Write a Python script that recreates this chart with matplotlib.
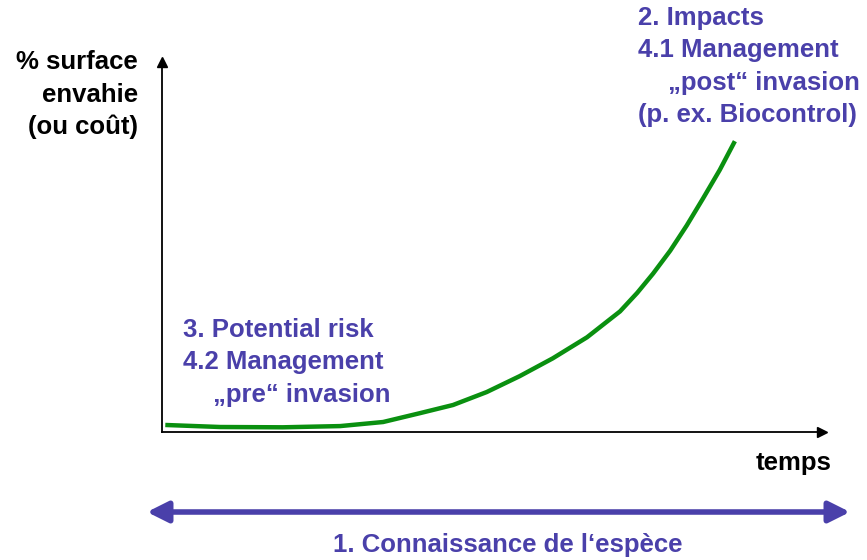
import matplotlib.pyplot as plt
from matplotlib.patches import FancyArrowPatch

# Courbe d'invasion (unités arbitraires : temps 0-10, surface 0-100)
temps = [0.05, 0.88, 1.83, 2.7, 3.35, 3.91, 4.41, 4.92, 5.42, 5.92, 6.44,
         6.94, 7.2, 7.44, 7.7, 7.95, 8.2, 8.45, 8.68]
surface = [1.9, 1.35, 1.27, 1.6, 2.7, 5.1, 7.3, 10.8, 15.1, 19.9, 25.6,
           32.6, 37.6, 42.8, 49.0, 55.8, 63.2, 70.8, 78.6]

W, H = 867, 560
BLUE = "#4a40aa"
plt.rcParams["font.family"] = ["Liberation Sans", "DejaVu Sans"]


def px(x, y):
    # pixels de l'image -> fraction de la figure
    return x / W, 1 - y / H


fig = plt.figure(figsize=(W / 100, H / 100), dpi=100)

# =========================
# Axes (surface vs temps)
# =========================
ax = fig.add_axes([162 / W, (H - 432) / H, (822 - 162) / W, (432 - 62) / H])
ax.set_xlim(0, 10)
ax.set_ylim(0, 100)
for s in ["top", "right"]:
    ax.spines[s].set_visible(False)
for s in ["left", "bottom"]:
    ax.spines[s].set_linewidth(1.3)
ax.set_xticks([])
ax.set_yticks([])
ax.plot(1, 0, ">k", markersize=7, transform=ax.transAxes, clip_on=False)
ax.plot(0, 1, "^k", markersize=7, transform=ax.transAxes, clip_on=False)

ax.plot(temps, surface, color="#0a9010", lw=3.2, solid_capstyle="butt",
        solid_joinstyle="round", clip_on=False)

# =========================
# Textes
# =========================
fs = 18.5
kw = dict(fontsize=fs, fontweight="bold", va="center")

# axe Y
for i, t in enumerate(["% surface", "envahie", "(ou coût)"]):
    fig.text(*px(138, 62 + i * 32.5), t, ha="right", color="black", **kw)

fig.text(*px(831, 463), "temps", ha="right", color="black", **kw)

# bloc haut droite
fig.text(*px(638, 18), "2. Impacts", ha="left", color=BLUE, **kw)
fig.text(*px(638, 50), "4.1 Management", ha="left", color=BLUE, **kw)
fig.text(*px(668, 83), "\u201epost\u201c invasion", ha="left", color=BLUE, **kw)
fig.text(*px(638, 115), "(p. ex. Biocontrol)", ha="left", color=BLUE, **kw)

# bloc bas gauche
fig.text(*px(183, 330), "3. Potential risk", ha="left", color=BLUE, **kw)
fig.text(*px(183, 362), "4.2 Management", ha="left", color=BLUE, **kw)
fig.text(*px(213, 395), "\u201epre\u201c invasion", ha="left", color=BLUE, **kw)

# flèche du bas
fig.patches.append(FancyArrowPatch(
    px(147, 512), px(850, 512), transform=fig.transFigure,
    arrowstyle="<|-|>,head_length=0.9,head_width=0.45", color=BLUE,
    lw=4, mutation_scale=14, shrinkA=0, shrinkB=0))
fig.text(*px(508, 545), "1. Connaissance de l\u2018espèce", ha="center",
         color=BLUE, **kw)

fig.savefig("out.png", dpi=100)
